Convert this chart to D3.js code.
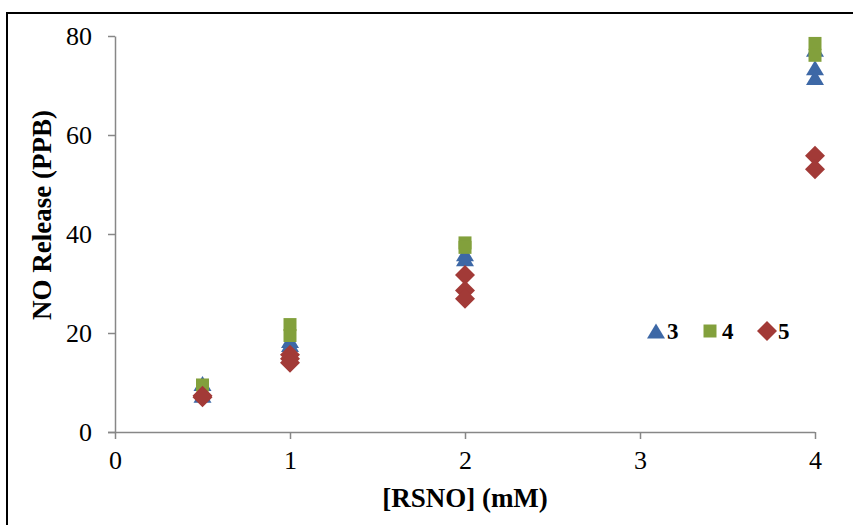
<!DOCTYPE html>
<html>
<head>
<meta charset="utf-8">
<script src="https://cdn.jsdelivr.net/npm/d3@7/dist/d3.min.js"></script>
<style>
  body { margin: 0; background: #fff; }
  svg { display: block; }
  text { font-family: "Liberation Serif", "Times New Roman", serif; fill: #000; }
</style>
</head>
<body>
<svg id="chart" width="853" height="525"></svg>
<script>
// Replicate NO release measurements (ppb) at each RSNO concentration (mM)
const series3X = [0.5, 0.5, 1, 1, 2, 2, 4, 4, 4];
const series3Y = [9.8, 7.4, 18.5, 17.7, 36.0, 35.0, 77.3, 73.6, 71.6];
const series4X = [0.5, 1, 1, 2, 2, 4, 4];
const series4Y = [9.5, 21.7, 19.5, 38.2, 37.3, 78.5, 76.1];
const series5X = [0.5, 0.5, 1, 1, 1, 2, 2, 2, 4, 4];
const series5Y = [7.3, 7.0, 15.6, 14.8, 14.0, 31.7, 28.6, 26.9, 55.8, 53.1];

const seriesNames = ["3", "4", "5"];
const seriesColors = ["#3d68a6", "#82a03c", "#a23a37"];
const seriesShapes = ["triangle", "square", "diamond"];

const xTicks = [0, 1, 2, 3, 4];
const yTicks = [0, 20, 40, 60, 80];

const svg = d3.select("#chart");

// chart-area frame
svg.append("rect")
  .attr("x", 7).attr("y", 13)
  .attr("width", 900).attr("height", 600)
  .attr("fill", "none").attr("stroke", "#000").attr("stroke-width", 2);

const x = d3.scaleLinear().domain([0, 4]).range([115, 815]);
const y = d3.scaleLinear().domain([0, 80]).range([432, 36]);

const axisColor = "#878787";

const gx = svg.append("g").attr("transform", "translate(0,432)")
  .call(d3.axisBottom(x).tickValues(xTicks).tickFormat(d3.format("d"))
    .tickSizeInner(7).tickSizeOuter(0).tickPadding(12));
const gy = svg.append("g").attr("transform", "translate(115,0)")
  .call(d3.axisLeft(y).tickValues(yTicks).tickFormat(d3.format("d"))
    .tickSizeInner(7).tickSizeOuter(0).tickPadding(16));

[gx, gy].forEach(g => {
  g.select(".domain").attr("stroke", axisColor).attr("stroke-width", 1.5);
  g.selectAll(".tick line").attr("stroke", axisColor).attr("stroke-width", 1.5);
  g.selectAll(".tick text")
    .attr("font-family", "Liberation Serif, Times New Roman, serif")
    .attr("font-size", 26).attr("fill", "#000");
});
// extend the x axis line left to meet the y tick marks
gx.select(".domain").attr("d", "M108,0.5H815");

// marker path generator (bounding box centred on the point)
function markerPath(shape) {
  if (shape === "triangle") {
    const w = 18, h = 15;
    return `M0,${-h / 2}L${w / 2},${h / 2}L${-w / 2},${h / 2}Z`;
  }
  if (shape === "square") {
    const s = 13;
    return `M${-s / 2},${-s / 2}h${s}v${s}h${-s}Z`;
  }
  const r = 10;
  return `M0,${-r}L${r},0L0,${r}L${-r},0Z`;
}

const seriesData = [
  series3X.map((v, i) => ({ x: v, y: series3Y[i] })),
  series4X.map((v, i) => ({ x: v, y: series4Y[i] })),
  series5X.map((v, i) => ({ x: v, y: series5Y[i] }))
];

seriesData.forEach((pts, k) => {
  svg.append("g").selectAll("path")
    .data(pts)
    .join("path")
    .attr("d", markerPath(seriesShapes[k]))
    .attr("transform", d => `translate(${x(d.x)},${y(d.y)})`)
    .attr("fill", seriesColors[k]);
});

// legend
const legendItems = [
  { sx: 656, tx: 667 },
  { sx: 710, tx: 722 },
  { sx: 767, tx: 778 }
];
const legend = svg.append("g");
seriesNames.forEach((name, k) => {
  legend.append("path")
    .attr("d", markerPath(seriesShapes[k]))
    .attr("transform", `translate(${legendItems[k].sx},331)`)
    .attr("fill", seriesColors[k]);
  legend.append("text")
    .attr("x", legendItems[k].tx).attr("y", 339)
    .attr("font-size", 23).attr("font-weight", "bold")
    .text(name);
});

// axis titles
svg.append("text")
  .attr("x", 465).attr("y", 507)
  .attr("text-anchor", "middle")
  .attr("font-size", 27).attr("font-weight", "bold")
  .text("[RSNO] (mM)");

svg.append("text")
  .attr("transform", "translate(51,215) rotate(-90)")
  .attr("text-anchor", "middle")
  .attr("font-size", 27).attr("font-weight", "bold")
  .text("NO Release (PPB)");
</script>
</body>
</html>
